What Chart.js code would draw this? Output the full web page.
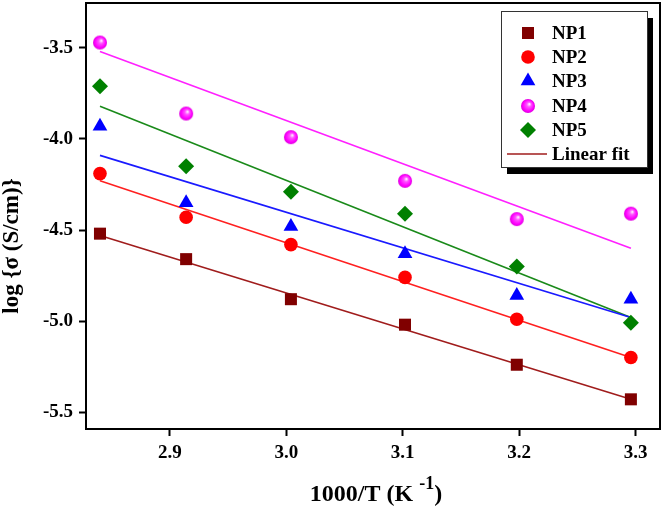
<!DOCTYPE html>
<html>
<head>
<meta charset="utf-8">
<script src="https://cdn.jsdelivr.net/npm/chart.js@4.4.1/dist/chart.umd.min.js"></script>
<style>
  html, body { margin: 0; padding: 0; background: #fff; }
  canvas { display: block; }
</style>
</head>
<body>
<canvas id="chart" width="664" height="507"></canvas>
<script>
// 1000/T values (K^-1)
const invT = [2.840, 2.914, 3.004, 3.102, 3.198, 3.296];

// log sigma for each sample
const np1 = [-4.52, -4.66, -4.88, -5.02, -5.24, -5.43];
const np2 = [-4.19, -4.43, -4.58, -4.76, -4.99, -5.20];
const np3 = [-3.93, -4.35, -4.48, -4.63, -4.86, -4.88];
const np4 = [-3.47, -3.86, -3.99, -4.23, -4.44, -4.41];
const np5 = [-3.71, -4.15, -4.29, -4.41, -4.70, -5.01];

// linear fit end points, read at first and last x
const fitX = [2.840, 3.296];
const fit1 = [-4.53, -5.43];
const fit2 = [-4.23, -5.20];
const fit3 = [-4.09, -4.98];
const fit4 = [-3.52, -4.60];
const fit5 = [-3.82, -4.98];

const xTicks = [2.9, 3.0, 3.1, 3.2, 3.3];
const yTicks = [-5.5, -5.0, -4.5, -4.0, -3.5];

const seriesNames = ['NP1', 'NP2', 'NP3', 'NP4', 'NP5'];
const fitLabel = 'Linear fit';

const SERIF = '"Liberation Serif", "Times New Roman", serif';

// shiny magenta ball used for NP4
function makeSphere(r) {
    const size = r * 2 + 2;
    const c = document.createElement('canvas');
    c.width = size;
    c.height = size;
    const g = c.getContext('2d');
    const cx = size / 2, cy = size / 2;
    const grad = g.createRadialGradient(cx + 1.5, cy - 2, 0.3, cx, cy, r);
    grad.addColorStop(0, '#ffeeff');
    grad.addColorStop(0.3, '#ff55ff');
    grad.addColorStop(0.75, '#ff00ff');
    grad.addColorStop(1, '#dd00dd');
    g.fillStyle = grad;
    g.beginPath();
    g.arc(cx, cy, r, 0, Math.PI * 2);
    g.fill();
    return c;
}
const sphere = makeSphere(7);

const toXY = (xs, ys) => xs.map((x, i) => ({ x: x, y: ys[i] }));

const pointSets = [
    { data: np1, color: '#800000', style: 'rect', radius: 8.5 },
    { data: np2, color: '#ff0000', style: 'circle', radius: 6.8 },
    { data: np3, color: '#0000ff', style: 'triangle', radius: 8.5 },
    { data: np4, color: '#ff00ff', style: sphere, radius: 7 },
    { data: np5, color: '#008000', style: 'rectRot', radius: 8 }
];
const fitSets = [
    { data: fit1, color: '#a01c1c' },
    { data: fit2, color: '#ff2020' },
    { data: fit3, color: '#1a1aff' },
    { data: fit4, color: '#ff20ff' },
    { data: fit5, color: '#1a8a1a' }
];

const datasets = [];
fitSets.forEach((f, i) => {
    datasets.push({
        type: 'line',
        label: 'fit ' + seriesNames[i],
        data: toXY(fitX, f.data),
        borderColor: f.color,
        borderWidth: 1.6,
        pointRadius: 0,
        fill: false,
        order: 2
    });
});
pointSets.forEach((p, i) => {
    datasets.push({
        type: 'scatter',
        label: seriesNames[i],
        data: toXY(invT, p.data),
        pointStyle: p.style,
        pointRadius: p.radius,
        pointHoverRadius: p.radius,
        backgroundColor: p.color,
        borderColor: p.color,
        borderWidth: 0,
        order: 1
    });
});

// closes the box on top and right
const frameBox = {
    id: 'frameBox',
    afterDraw(chart) {
        const { ctx, chartArea: a } = chart;
        ctx.save();
        ctx.strokeStyle = '#000';
        ctx.lineWidth = 2;
        ctx.beginPath();
        ctx.moveTo(a.left, a.top);
        ctx.lineTo(a.right, a.top);
        ctx.lineTo(a.right, a.bottom);
        ctx.stroke();
        ctx.restore();
    }
};

const axisTitles = {
    id: 'axisTitles',
    afterDraw(chart) {
        const ctx = chart.ctx;
        ctx.save();
        ctx.fillStyle = '#000';
        // y title
        ctx.font = 'bold 23px ' + SERIF;
        ctx.textAlign = 'center';
        ctx.textBaseline = 'middle';
        ctx.translate(12, 246);
        ctx.rotate(-Math.PI / 2);
        ctx.fillText('log {\u03c3 (S/cm)}', 0, 0);
        ctx.setTransform(1, 0, 0, 1, 0, 0);
        // x title with superscript
        const base = '1000/T (K ';
        const sup = '-1';
        const tail = ')';
        ctx.textBaseline = 'alphabetic';
        ctx.textAlign = 'left';
        ctx.font = 'bold 24px ' + SERIF;
        const wBase = ctx.measureText(base).width;
        const wTail = ctx.measureText(tail).width;
        ctx.font = 'bold 18px ' + SERIF;
        const wSup = ctx.measureText(sup).width;
        let x = 376 - (wBase + wSup + wTail) / 2;
        ctx.font = 'bold 24px ' + SERIF;
        ctx.fillText(base, x, 501);
        x += wBase;
        ctx.font = 'bold 18px ' + SERIF;
        ctx.fillText(sup, x, 489);
        x += wSup;
        ctx.font = 'bold 24px ' + SERIF;
        ctx.fillText(tail, x, 501);
        ctx.restore();
    }
};

const legendBox = {
    id: 'legendBox',
    afterDraw(chart) {
        const ctx = chart.ctx;
        const bx = 501, by = 11, bw = 146, bh = 156;
        ctx.save();
        ctx.fillStyle = '#000';
        ctx.fillRect(bx + 6, by + 7, bw, bh);
        ctx.fillStyle = '#fff';
        ctx.fillRect(bx, by, bw, bh);
        ctx.strokeStyle = '#333';
        ctx.lineWidth = 1;
        ctx.strokeRect(bx + 0.5, by + 0.5, bw, bh);

        const rowY = [33, 57, 81, 106, 130, 154];
        ctx.font = 'bold 19px ' + SERIF;
        ctx.textAlign = 'left';
        ctx.textBaseline = 'middle';
        pointSets.forEach((p, i) => {
            ctx.fillStyle = p.color;
            Chart.helpers.drawPoint(ctx, {
                pointStyle: p.style,
                radius: p.radius,
                borderWidth: 0,
                rotation: 0
            }, 528, rowY[i]);
            ctx.fillStyle = '#000';
            ctx.fillText(seriesNames[i], 552, rowY[i] + 1);
        });
        const ly = rowY[5];
        ctx.strokeStyle = fitSets[0].color;
        ctx.lineWidth = 1.6;
        ctx.beginPath();
        ctx.moveTo(507, ly);
        ctx.lineTo(547, ly);
        ctx.stroke();
        ctx.fillStyle = '#000';
        ctx.fillText(fitLabel, 552, ly + 1);
        ctx.restore();
    }
};

const tickFont = { family: SERIF, size: 19, weight: 'bold' };

const noPad = (scale) => {
    scale.paddingTop = 0;
    scale.paddingBottom = 0;
    scale.paddingLeft = 0;
    scale.paddingRight = 0;
};

new Chart(document.getElementById('chart'), {
    type: 'scatter',
    data: { datasets: datasets },
    options: {
        responsive: false,
        animation: false,
        events: [],
        layout: { autoPadding: false, padding: { top: 3, right: 4, left: 0, bottom: 0 } },
        plugins: {
            legend: { display: false },
            tooltip: { enabled: false }
        },
        scales: {
            x: {
                type: 'linear',
                min: 2.828,
                max: 3.321,
                afterBuildTicks: (scale) => { scale.ticks = xTicks.map(v => ({ value: v })); },
                afterFit: (scale) => { scale.height = 78; noPad(scale); },
                grid: {
                    drawOnChartArea: false,
                    drawTicks: true,
                    tickLength: 7,
                    tickWidth: 2,
                    tickColor: '#000'
                },
                border: { display: true, color: '#000', width: 2 },
                ticks: {
                    font: tickFont,
                    color: '#000',
                    padding: 6,
                    maxRotation: 0,
                    callback: (v) => Number(v).toFixed(1)
                }
            },
            y: {
                type: 'linear',
                min: -5.593,
                max: -3.253,
                afterBuildTicks: (scale) => { scale.ticks = yTicks.map(v => ({ value: v })); },
                afterFit: (scale) => { scale.width = 86; noPad(scale); },
                grid: {
                    drawOnChartArea: false,
                    drawTicks: true,
                    tickLength: 7,
                    tickWidth: 2,
                    tickColor: '#000'
                },
                border: { display: true, color: '#000', width: 2 },
                ticks: {
                    font: tickFont,
                    color: '#000',
                    padding: 6,
                    callback: (v) => Number(v).toFixed(1)
                }
            }
        }
    },
    plugins: [frameBox, axisTitles, legendBox]
});
</script>
</body>
</html>
